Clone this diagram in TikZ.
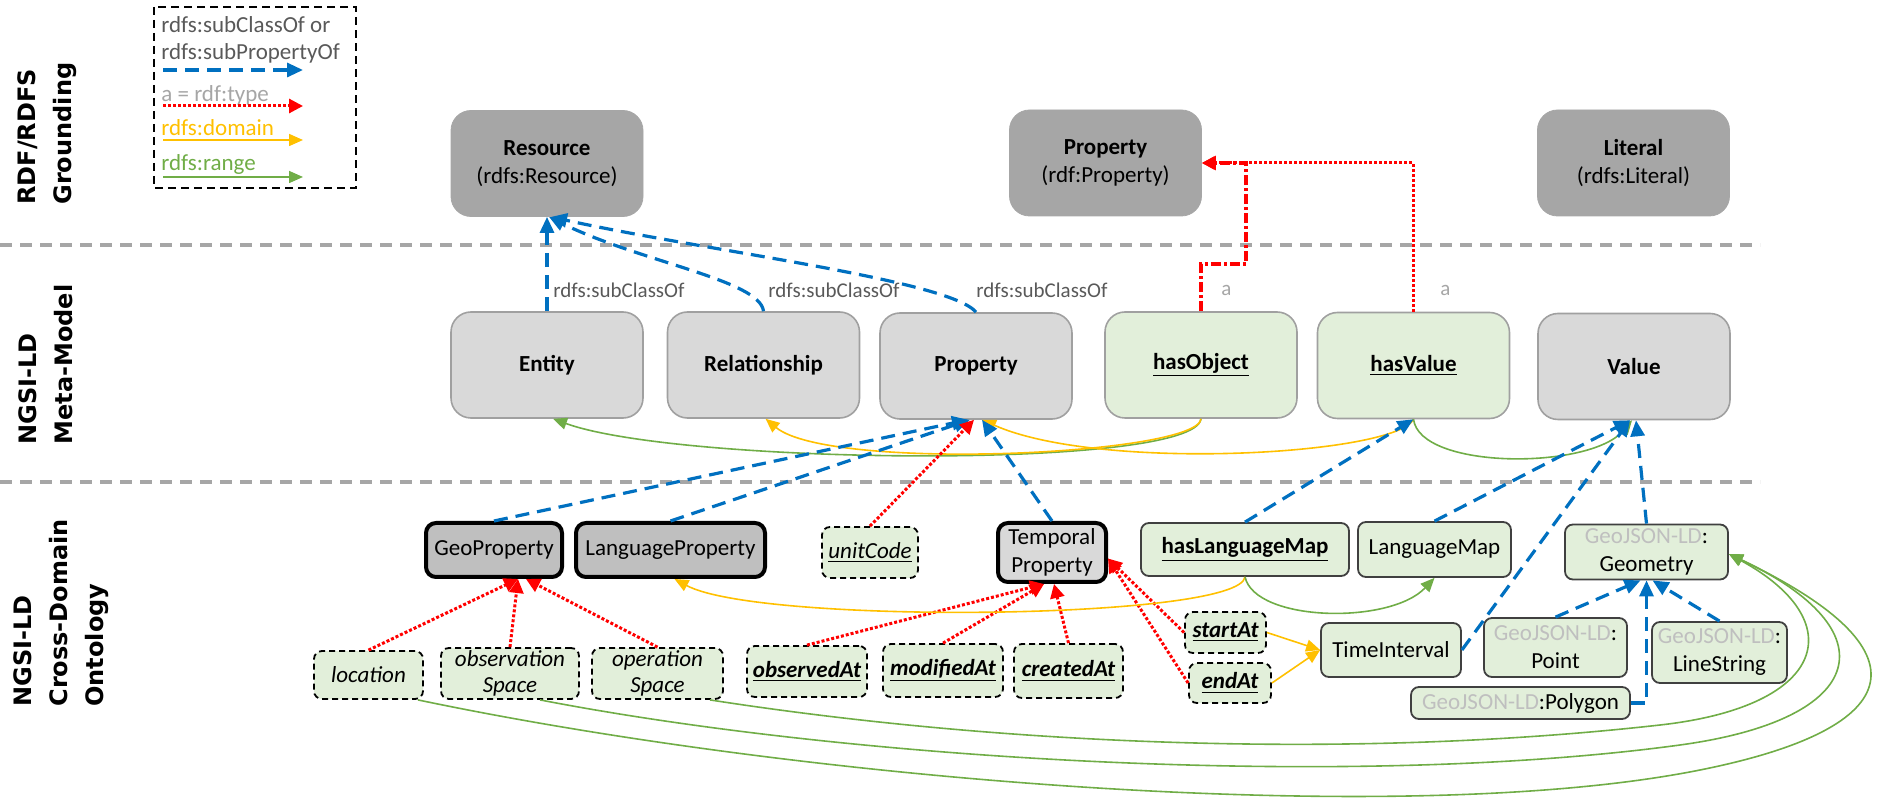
\documentclass[tikz,border=0pt]{standalone}
\usepackage{fontspec}
\usepackage{xcolor}
\setmainfont{Carlito}
\newfontfamily\rowfont{DejaVu Sans}
\usetikzlibrary{arrows.meta}

\definecolor{rdfblue}{HTML}{0070C0}
\definecolor{rdfred}{HTML}{FF0000}
\definecolor{rdforange}{HTML}{FFC000}
\definecolor{rdfgreen}{HTML}{70AD47}
\definecolor{topgray}{HTML}{A6A6A6}
\definecolor{metagray}{HTML}{D9D9D9}
\definecolor{edgegray}{HTML}{A0A0A0}
\definecolor{geogray}{HTML}{BFBFBF}
\definecolor{lightgreen}{HTML}{E2EFDA}
\definecolor{darkedge}{HTML}{404040}
\definecolor{textgray}{HTML}{595959}
\definecolor{agray}{HTML}{A6A6A6}
\definecolor{sepgray}{HTML}{A6A6A6}
\definecolor{geotext}{HTML}{BFBFBF}

\newcommand{\nodefont}{\fontsize{11.5}{14}\selectfont}
\newcommand{\labelfont}{\fontsize{10.5}{12}\selectfont}
\newcommand{\geo}{{\color{geotext}GeoJSON-LD}:}

\tikzset{
  rdfbox/.style={draw=topgray,fill=topgray,rounded corners=10pt,minimum width=96pt,minimum height=53pt,align=center,font=\nodefont},
  metabox/.style={draw=edgegray,fill=metagray,line width=0.8pt,rounded corners=10pt,minimum width=96pt,minimum height=53pt,font=\nodefont\bfseries},
  metaprop/.style={metabox,fill=lightgreen},
  ngsibox/.style={draw=black,fill=geogray,line width=2pt,rounded corners=5pt,align=center,font=\nodefont,inner sep=1pt},
  attrbox/.style={draw=black,fill=lightgreen,dash pattern=on 3pt off 2pt,line width=0.9pt,rounded corners=4pt,align=center,font=\nodefont\itshape,inner sep=1pt},
  valbox/.style={draw=darkedge,fill=lightgreen,line width=0.9pt,rounded corners=4pt,align=center,font=\nodefont,inner sep=1pt},
  subc/.style={draw=rdfblue,line width=1.6pt,dash pattern=on 7pt off 4pt,-{Triangle[length=8pt,width=7pt]}},
  isa/.style={draw=rdfred,line width=1.5pt,dash pattern=on 1.5pt off 1pt,-{Triangle[length=7pt,width=7pt]}},
  isaobj/.style={draw=rdfred,line width=2.2pt,dash pattern=on 5pt off 1.5pt on 1.5pt off 1.5pt,-{Triangle[length=6pt,width=6pt]}},
  dom/.style={draw=rdforange,line width=0.8pt,-{Triangle[length=7pt,width=6pt]}},
  rng/.style={draw=rdfgreen,line width=0.8pt,-{Triangle[length=7pt,width=6pt]}},
  lbl/.style={font=\labelfont,text=textgray,anchor=west,inner sep=0pt},
  sep/.style={draw=sepgray,line width=1.6pt,dash pattern=on 6pt off 4pt},
  rowlabel/.style={rotate=90,anchor=north west,inner sep=0pt,align=left,font=\rowfont\bfseries\fontsize{12}{18}\selectfont}
}

\begin{document}
\begin{tikzpicture}[x=0.5pt,y=-0.5pt]
  \useasboundingbox (0,0) rectangle (1884,801);

  \node[rowlabel] (lblrdf) at (17,205) {RDF/RDFS\\Grounding};
  \node[rowlabel] (lblmeta) at (18,445) {NGSI-LD\\Meta-Model};
  \node[rowlabel] (lblonto) at (13,707) {NGSI-LD\\Cross-Domain\\Ontology};

  \draw[sep] (0,245) -- (1760,245);
  \draw[sep] (0,482) -- (1760,482);

  \draw[black,line width=0.8pt,dash pattern=on 4pt off 2.5pt] (154,7) rectangle (356,188);
  \node[lbl,font=\nodefont] (lgsub) at (161,25) {rdfs:subClassOf or};
  \node[lbl,font=\nodefont] (lgsubp) at (161,53) {rdfs:subPropertyOf};
  \node[lbl,font=\nodefont,text=agray] (lgtype) at (161,95) {a = rdf:type};
  \node[lbl,font=\nodefont,text=rdforange] (lgdom) at (161,128) {rdfs:domain};
  \node[lbl,font=\nodefont,text=rdfgreen] (lgrng) at (161,164) {rdfs:range};
  \coordinate (lgA) at (163,70);  \coordinate (lgB) at (303,70);
  \coordinate (lgC) at (163,106); \coordinate (lgD) at (303,106);
  \coordinate (lgE) at (163,140); \coordinate (lgF) at (303,140);
  \coordinate (lgG) at (163,177); \coordinate (lgH) at (303,177);
  \draw[subc] (lgA) -- (lgB);
  \draw[isa] (lgC) -- (lgD);
  \draw[dom] (lgE) -- (lgF);
  \draw[rng] (lgG) -- (lgH);

  \node[rdfbox] (resource) at (547,163.5) {\textbf{Resource}\\(rdfs:Resource)};
  \node[rdfbox] (rdfprop) at (1105.5,163) {\textbf{Property}\\(rdf:Property)};
  \node[rdfbox] (literal) at (1633.5,163) {\textbf{Literal}\\(rdfs:Literal)};

  \node[metabox] (entity) at (547,365) {Entity};
  \node[metabox] (relationship) at (763.5,365) {Relationship};
  \node[metabox] (property) at (976,366) {Property};
  \node[metaprop] (hasobject) at (1201,365) {\underline{hasObject}};
  \node[metaprop] (hasvalue) at (1413.5,365.5) {\underline{hasValue}};
  \node[metabox] (value) at (1634,366.5) {Value};

  \node[ngsibox,minimum width=68pt,minimum height=27pt] (geoprop) at (494,550) {GeoProperty};
  \node[ngsibox,minimum width=94.5pt,minimum height=27pt] (langprop) at (670.5,550) {LanguageProperty};
  \node[attrbox,minimum width=48pt,minimum height=25.5pt] (unitcode) at (870,552.5) {\underline{unitCode}};
  \node[ngsibox,fill=metagray,minimum width=54pt,minimum height=29.5pt] (temporal) at (1052,552.5) {Temporal\\Property};
  \node[valbox,minimum width=104pt,minimum height=26.5pt,font=\nodefont\bfseries] (haslangmap) at (1245,549.5) {\underline{hasLanguageMap}};
  \node[valbox,minimum width=76.5pt,minimum height=27.5pt] (langmap) at (1434.5,549.5) {LanguageMap};
  \node[valbox,minimum width=81.5pt,minimum height=27.5pt] (geometry) at (1646.5,552) {\geo\\Geometry};

  \node[attrbox,minimum width=40.5pt,minimum height=20.5pt,font=\nodefont\itshape\bfseries] (startat) at (1225.5,632.5) {\underline{startAt}};
  \node[attrbox,minimum width=41pt,minimum height=20pt,font=\nodefont\itshape\bfseries] (endat) at (1230,683) {\underline{endAt}};
  \node[valbox,minimum width=70pt,minimum height=27pt] (timeinterval) at (1391,650) {TimeInterval};
  \node[valbox,minimum width=71.5pt,minimum height=29.5pt] (point) at (1555.5,647.5) {\geo\\Point};
  \node[valbox,minimum width=67.5pt,minimum height=30.5pt] (linestring) at (1719.5,652.5) {\geo\\LineString};
  \node[valbox,minimum width=109.5pt,minimum height=16pt] (polygon) at (1520.5,703) {\geo Polygon};

  \node[attrbox,minimum width=54.5pt,minimum height=24pt] (location) at (368.5,675) {location};
  \node[attrbox,minimum width=69pt,minimum height=25.5pt,font=\fontsize{11.5}{13}\selectfont\itshape] (obsspace) at (510,673.5) {observation\\Space};
  \node[attrbox,minimum width=65.5pt,minimum height=25.5pt,font=\fontsize{11.5}{13}\selectfont\itshape] (opspace) at (657.5,673.5) {operation\\Space};
  \node[attrbox,minimum width=60pt,minimum height=25.5pt,font=\nodefont\itshape\bfseries] (observedat) at (807,671.5) {\underline{observedAt}};
  \node[attrbox,minimum width=60pt,minimum height=26.5pt,font=\nodefont\itshape\bfseries] (modifiedat) at (943,670.5) {\underline{modifiedAt}};
  \node[attrbox,minimum width=54.5pt,minimum height=27pt,font=\nodefont\itshape\bfseries] (createdat) at (1068.5,671) {\underline{createdAt}};

  \draw[subc] (entity.north) -- (resource.south);
  \draw[subc] (relationship.north) .. controls (760,280) and (640,262) .. ([xshift=1pt]resource.south);
  \draw[subc] (property.north) .. controls (950,280) and (700,250) .. ([xshift=2pt]resource.south);
  \node[lbl] (sc1) at (553,290) {rdfs:subClassOf};
  \node[lbl] (sc2) at (768,290) {rdfs:subClassOf};
  \node[lbl] (sc3) at (976,290) {rdfs:subClassOf};

  \draw[isaobj] (hasobject.north) -- (1201,264) -- (1246,264) |- (rdfprop.east);
  \draw[isa] (hasvalue.north) |- (rdfprop.east);
  \node[lbl,text=agray] (a1) at (1221,290) {a};
  \node[lbl,text=agray] (a2) at (1440,290) {a};

  \draw[rng] (hasobject.south) .. controls (1195,470) and (680,465) .. ([xshift=3pt]entity.south);
  \draw[dom] (hasobject.south) .. controls (1198,455) and (830,472) .. ([xshift=1pt]relationship.south);
  \draw[dom] (hasvalue.south) .. controls (1395,455) and (1100,472) .. ([xshift=3pt]property.south);
  \draw[rng] (hasvalue.south) .. controls (1420,470) and (1590,470) .. ([xshift=-1pt]value.south);

  \draw[subc] (geoprop.north) -- ([xshift=-4pt]property.south);
  \draw[subc] (langprop.north) -- ([xshift=-3pt]property.south);
  \draw[isa] (unitcode.north) -- ([xshift=-1pt]property.south);
  \draw[subc] (temporal.north) -- ([xshift=3pt]property.south);
  \draw[subc] (haslangmap.north) -- (hasvalue.south);
  \draw[subc] (langmap.north) -- ([xshift=-2pt]value.south);
  \draw[subc] (timeinterval.east) -- ([xshift=-2pt]value.south);
  \draw[subc] (geometry.north) -- ([xshift=1pt]value.south);

  \draw[subc] (point.north) -- ([xshift=-3pt]geometry.south);
  \draw[subc] (polygon.east) -| (geometry.south);
  \draw[subc] (linestring.north) -- ([xshift=3pt]geometry.south);

  \draw[isa] (location.north) -- ([xshift=12pt]geoprop.south);
  \draw[isa] (obsspace.north) -- ([xshift=12pt]geoprop.south);
  \draw[isa] (opspace.north) -- ([xshift=16pt]geoprop.south);
  \draw[isa] (observedat.north) -- ([xshift=-4pt]temporal.south);
  \draw[isa] (modifiedat.north) -- ([xshift=-4pt]temporal.south);
  \draw[isa] (createdat.north) -- ([xshift=1pt]temporal.south);
  \draw[isa] (startat.west) -- ([yshift=-3pt]temporal.east);
  \draw[isa] (endat.west) -- ([yshift=-3pt]temporal.east);

  \draw[dom] (startat.east) -- (timeinterval.west);
  \draw[dom] (endat.east) -- (timeinterval.west);
  \draw[dom] (haslangmap.south) .. controls (1240,620) and (760,625) .. ([xshift=2pt]langprop.south);
  \draw[rng] (haslangmap.south) .. controls (1255,622) and (1390,625) .. (langmap.south);

  \draw[rng] ([xshift=-3pt]location.south east) .. controls (800,780) and (1400,830) .. (1700,770) .. controls (1910,728) and (1930,650) .. ([yshift=-1pt]geometry.east);
  \draw[rng] ([xshift=15pt]obsspace.south) .. controls (850,760) and (1350,790) .. (1680,745) .. controls (1870,719) and (1890,630) .. ([yshift=-1pt]geometry.east);
  \draw[rng] ([xshift=-7pt]opspace.south east) .. controls (1000,745) and (1350,760) .. (1660,725) .. controls (1830,706) and (1850,620) .. ([yshift=-1pt]geometry.east);
\end{tikzpicture}
\end{document}
